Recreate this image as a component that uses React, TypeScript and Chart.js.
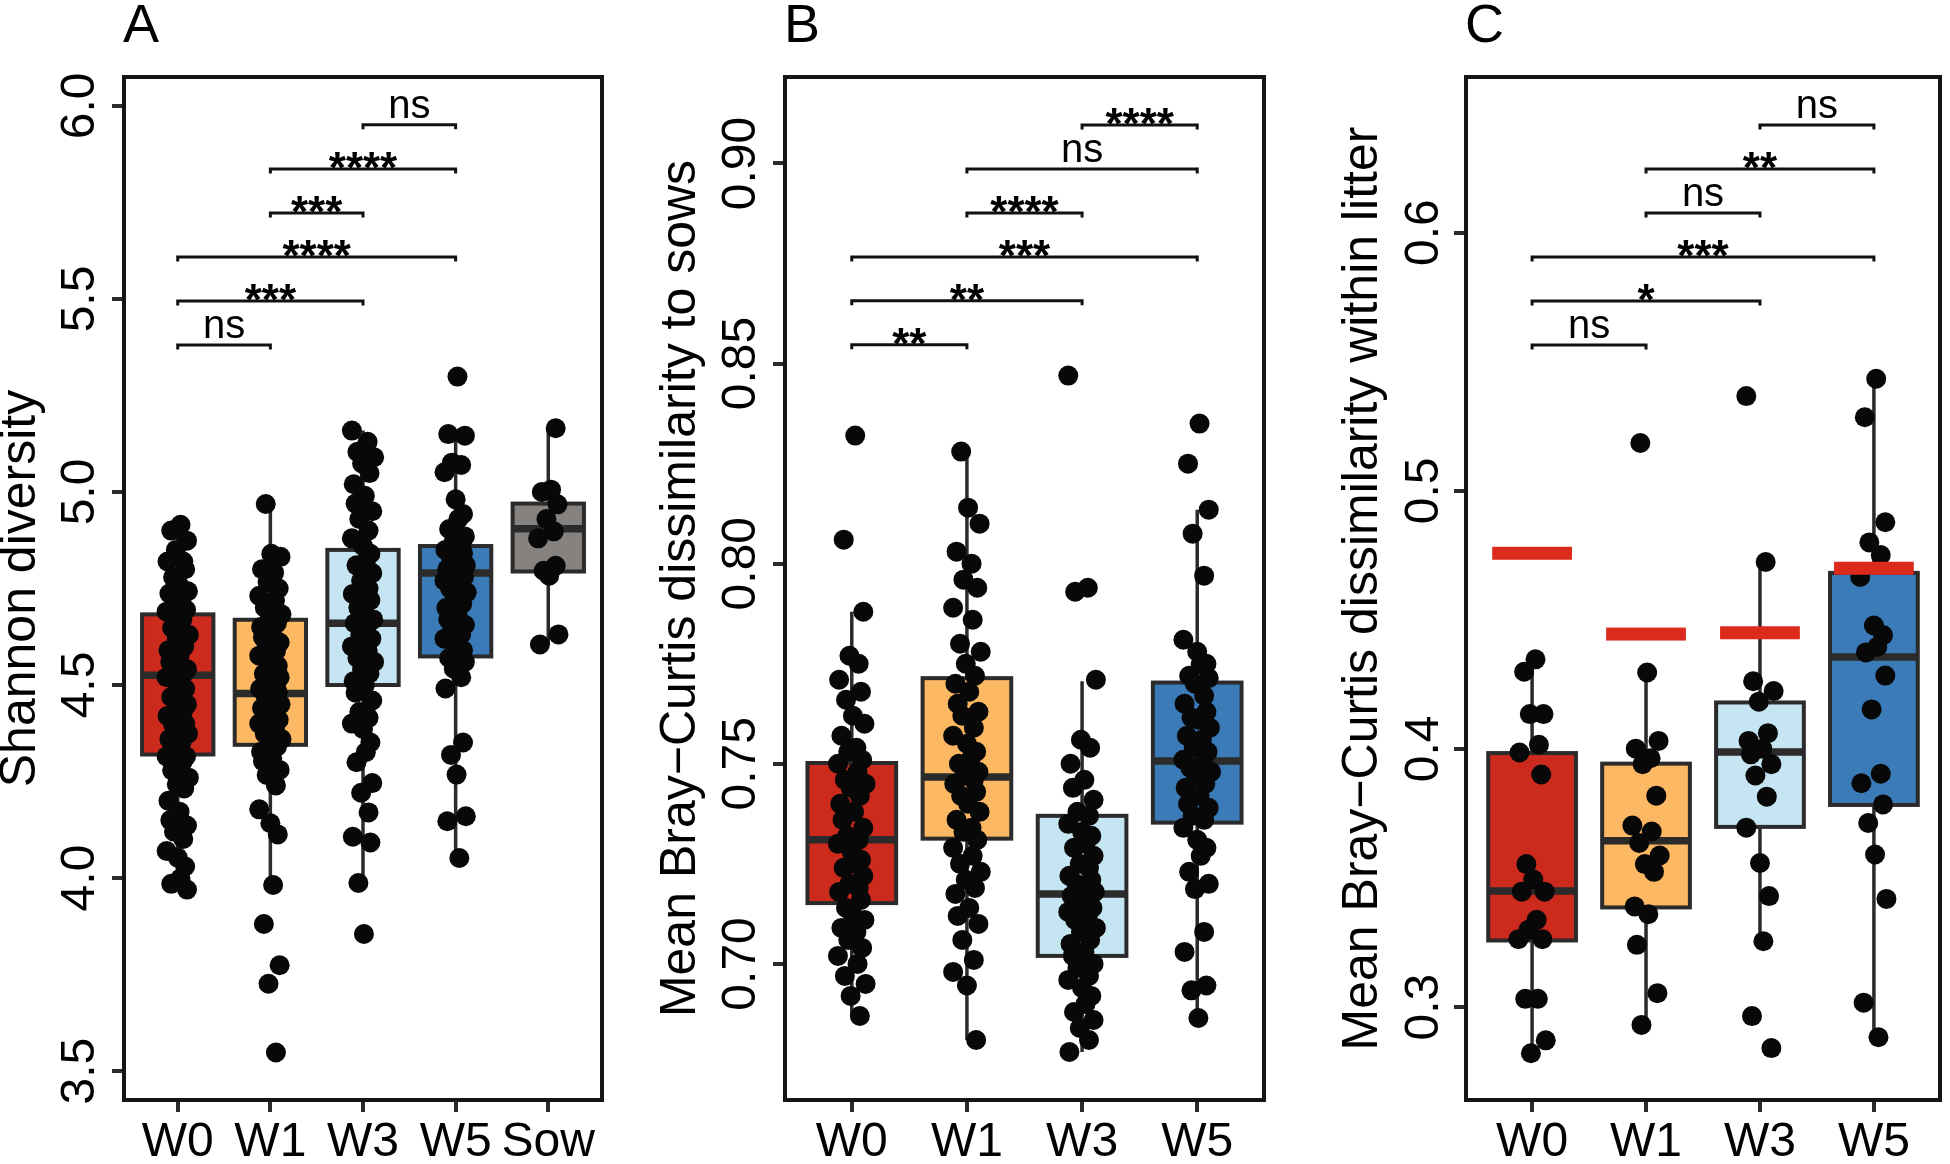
import React, { useEffect, useRef } from "react";
import { Chart, registerables } from "chart.js";

Chart.register(...registerables);

const FONT = "'Liberation Sans', Arial, Helvetica, sans-serif";

// ---------- categories ----------
const A_CATS = ["W0", "W1", "W3", "W5", "Sow"];
const B_CATS = ["W0", "W1", "W3", "W5"];
const C_CATS = ["W0", "W1", "W3", "W5"];

// ---------- axis ticks ----------
const A_TICKS = [3.5, 4.0, 4.5, 5.0, 5.5, 6.0];
const B_TICKS = [0.7, 0.75, 0.8, 0.85, 0.9];
const C_TICKS = [0.3, 0.4, 0.5, 0.6];

// ---------- box statistics: [lower whisker, Q1, median, Q3, upper whisker] ----------
const A_BOX = [
  [3.97, 4.32, 4.525, 4.683, 4.915],
  [3.982, 4.345, 4.478, 4.669, 4.969],
  [3.99, 4.5, 4.66, 4.85, 5.159],
  [4.052, 4.574, 4.79, 4.86, 5.146],
  [4.605, 4.794, 4.905, 4.97, 5.165],
];
const B_BOX = [
  [0.687, 0.7152, 0.731, 0.7502, 0.788],
  [0.681, 0.7313, 0.7467, 0.7714, 0.8276],
  [0.678, 0.702, 0.7175, 0.737, 0.7706],
  [0.6865, 0.7353, 0.7507, 0.7703, 0.8135],
];
const C_BOX = [
  [0.2822, 0.3258, 0.345, 0.3984, 0.4344],
  [0.2929, 0.3386, 0.3644, 0.3943, 0.4294],
  [0.3258, 0.3698, 0.3988, 0.418, 0.473],
  [0.2884, 0.3783, 0.4356, 0.4682, 0.5434],
];

// ---------- observations (panel A: Shannon diversity) ----------
const A_W0 = [4.915, 4.9, 4.874, 4.85, 4.82, 4.82, 4.8, 4.779, 4.76, 4.743, 4.737, 4.72, 4.7, 4.695, 4.69, 4.67, 4.648, 4.63, 4.62, 4.6, 4.59, 4.576, 4.56, 4.541, 4.53, 4.529, 4.52, 4.5, 4.49, 4.481, 4.469, 4.45, 4.44, 4.434, 4.42, 4.4, 4.398, 4.38, 4.374, 4.36, 4.351, 4.33, 4.315, 4.315, 4.3, 4.279, 4.26, 4.243, 4.232, 4.2, 4.172, 4.15, 4.136, 4.12, 4.101, 4.07, 4.053, 4.03, 3.999, 3.985, 3.97];
const A_W1 = [4.969, 4.84, 4.832, 4.8, 4.791, 4.767, 4.75, 4.731, 4.719, 4.7, 4.683, 4.67, 4.66, 4.65, 4.64, 4.624, 4.61, 4.6, 4.588, 4.576, 4.56, 4.55, 4.54, 4.529, 4.52, 4.505, 4.5, 4.49, 4.481, 4.47, 4.458, 4.45, 4.44, 4.434, 4.42, 4.41, 4.4, 4.39, 4.374, 4.36, 4.351, 4.34, 4.327, 4.31, 4.303, 4.28, 4.267, 4.24, 4.178, 4.142, 4.113, 3.982, 3.881, 3.774, 3.726, 3.548];
const A_W3 = [5.159, 5.13, 5.104, 5.09, 5.074, 5.049, 5.02, 4.99, 4.97, 4.95, 4.93, 4.9, 4.88, 4.86, 4.84, 4.82, 4.81, 4.79, 4.77, 4.75, 4.736, 4.72, 4.7, 4.69, 4.67, 4.66, 4.65, 4.63, 4.62, 4.6, 4.59, 4.57, 4.56, 4.54, 4.53, 4.51, 4.5, 4.48, 4.46, 4.43, 4.415, 4.4, 4.386, 4.351, 4.326, 4.3, 4.246, 4.221, 4.17, 4.107, 4.092, 3.987, 3.855];
const A_W5 = [5.299, 5.15, 5.146, 5.076, 5.07, 5.051, 4.981, 4.943, 4.93, 4.904, 4.885, 4.873, 4.86, 4.85, 4.841, 4.83, 4.822, 4.81, 4.8, 4.796, 4.79, 4.78, 4.77, 4.758, 4.75, 4.74, 4.726, 4.71, 4.7, 4.682, 4.67, 4.656, 4.64, 4.631, 4.62, 4.605, 4.59, 4.58, 4.57, 4.56, 4.542, 4.52, 4.491, 4.351, 4.319, 4.268, 4.16, 4.147, 4.052];
const A_SOW = [5.165, 5.006, 5.0, 4.968, 4.93, 4.898, 4.88, 4.809, 4.796, 4.783, 4.631, 4.605];

// ---------- observations (panel B: dissimilarity to sows) ----------
const B_W0 = [0.832, 0.806, 0.788, 0.777, 0.775, 0.771, 0.768, 0.766, 0.762, 0.76, 0.757, 0.754, 0.753, 0.751, 0.75, 0.748, 0.746, 0.745, 0.744, 0.742, 0.74, 0.738, 0.736, 0.734, 0.732, 0.731, 0.73, 0.728, 0.726, 0.725, 0.724, 0.722, 0.72, 0.719, 0.718, 0.716, 0.714, 0.712, 0.711, 0.709, 0.708, 0.706, 0.704, 0.702, 0.7, 0.697, 0.695, 0.692, 0.687];
const B_W1 = [0.828, 0.814, 0.81, 0.803, 0.8, 0.796, 0.794, 0.789, 0.786, 0.78, 0.778, 0.775, 0.772, 0.77, 0.768, 0.765, 0.763, 0.762, 0.759, 0.757, 0.755, 0.753, 0.751, 0.75, 0.748, 0.747, 0.746, 0.745, 0.743, 0.742, 0.74, 0.738, 0.736, 0.734, 0.733, 0.731, 0.729, 0.727, 0.725, 0.723, 0.721, 0.719, 0.7175, 0.714, 0.712, 0.71, 0.706, 0.701, 0.698, 0.6946, 0.681];
const B_W3 = [0.847, 0.794, 0.793, 0.771, 0.756, 0.754, 0.75, 0.746, 0.744, 0.741, 0.738, 0.737, 0.735, 0.733, 0.732, 0.73, 0.729, 0.727, 0.725, 0.724, 0.722, 0.721, 0.72, 0.719, 0.718, 0.717, 0.716, 0.715, 0.714, 0.713, 0.712, 0.711, 0.709, 0.708, 0.706, 0.705, 0.703, 0.702, 0.7, 0.699, 0.697, 0.696, 0.694, 0.692, 0.69, 0.688, 0.686, 0.684, 0.681, 0.678];
const B_W5 = [0.835, 0.825, 0.8135, 0.8075, 0.797, 0.781, 0.778, 0.775, 0.7748, 0.772, 0.7714, 0.77, 0.767, 0.765, 0.763, 0.7616, 0.761, 0.759, 0.757, 0.756, 0.754, 0.753, 0.751, 0.75, 0.749, 0.748, 0.747, 0.745, 0.744, 0.742, 0.74, 0.739, 0.737, 0.736, 0.734, 0.731, 0.729, 0.727, 0.723, 0.72, 0.7187, 0.708, 0.703, 0.6946, 0.6934, 0.6865];

// ---------- observations (panel C: dissimilarity within litter) ----------
const C_W0 = [0.4347, 0.4299, 0.4135, 0.4135, 0.4016, 0.3986, 0.3901, 0.3554, 0.3494, 0.3447, 0.3447, 0.3338, 0.33, 0.3263, 0.3263, 0.3032, 0.3032, 0.2871, 0.2821];
const C_W1 = [0.5185, 0.4296, 0.4031, 0.4001, 0.3964, 0.3941, 0.3819, 0.3703, 0.368, 0.3636, 0.3587, 0.3554, 0.3524, 0.339, 0.336, 0.3241, 0.3054, 0.2931];
const C_W3 = [0.5367, 0.4724, 0.4262, 0.4224, 0.4183, 0.4061, 0.4031, 0.4001, 0.3979, 0.3941, 0.3897, 0.3815, 0.3695, 0.3558, 0.343, 0.3255, 0.2965, 0.2841];
const C_W5 = [0.5434, 0.5285, 0.4878, 0.48, 0.4751, 0.4666, 0.4478, 0.4441, 0.4396, 0.4374, 0.4284, 0.4153, 0.3904, 0.3867, 0.3785, 0.3713, 0.3591, 0.3419, 0.3017, 0.2883];
// red reference level per group in panel C
const C_REF = [0.4758, 0.4445, 0.445, 0.47];

// ---------- pairwise comparisons: [group a, group b, label, bracket height] ----------
const A_SIG: [string, string, string, number][] = [
  ["W3", "W5", "ns", 5.951],
  ["W1", "W5", "****", 5.837],
  ["W1", "W3", "***", 5.723],
  ["W0", "W5", "****", 5.609],
  ["W0", "W3", "***", 5.495],
  ["W0", "W1", "ns", 5.381],
];
const B_SIG: [string, string, string, number][] = [
  ["W3", "W5", "****", 0.9096],
  ["W1", "W5", "ns", 0.8986],
  ["W1", "W3", "****", 0.8876],
  ["W0", "W5", "***", 0.8766],
  ["W0", "W3", "**", 0.8657],
  ["W0", "W1", "**", 0.8547],
];
const C_SIG: [string, string, string, number][] = [
  ["W3", "W5", "ns", 0.6417],
  ["W1", "W5", "**", 0.6247],
  ["W1", "W3", "ns", 0.6076],
  ["W0", "W5", "***", 0.5906],
  ["W0", "W3", "*", 0.5735],
  ["W0", "W1", "ns", 0.5565],
];

// ---------- presentation ----------
const COLORS: Record<string, string> = {
  W0: "#CD2A1E",
  W1: "#FDB863",
  W3: "#C6E5F2",
  W5: "#3A7BB8",
  Sow: "#86827F",
};
// horizontal jitter pattern (category units), cycled through the points
const JITTER = [0.03, -0.07, 0.1, -0.02, 0.06, -0.11, 0.08, -0.05, 0.01, 0.11, -0.09, 0.04, -0.03, 0.09, -0.12, 0.05, -0.06, 0.12, -0.01, 0.07, -0.1, 0.02, -0.08, 0.1, -0.04, 0.06, -0.12, 0.0, 0.08];

type PanelCfg = {
  letter: string;
  cats: string[];
  groups: number[][];
  box: number[][];
  ticks: number[];
  decimals: number;
  yMin: number;
  yMax: number;
  yTitle: string;
  sig: [string, string, string, number][];
  ref?: number[];
  left: number;
  width: number;
  axisWidth: number;
  padRight: number;
  titlePad: number;
  tickPad: number;
};

const PANELS: PanelCfg[] = [
  {
    letter: "A", cats: A_CATS, groups: [A_W0, A_W1, A_W3, A_W5, A_SOW], box: A_BOX, ticks: A_TICKS, decimals: 1,
    yMin: 3.425, yMax: 6.075, yTitle: "Shannon diversity", sig: A_SIG,
    left: 0, width: 620, axisWidth: 124, padRight: 18, titlePad: -3.5, tickPad: -2.4,
  },
  {
    letter: "B", cats: B_CATS, groups: [B_W0, B_W1, B_W3, B_W5], box: B_BOX, ticks: B_TICKS, decimals: 2,
    yMin: 0.666, yMax: 0.9216, yTitle: "Mean Bray\u2212Curtis dissimilarity to sows", sig: B_SIG,
    left: 620, width: 670, axisWidth: 165, padRight: 26, titlePad: 36, tickPad: -15.7,
  },
  {
    letter: "C", cats: C_CATS, groups: [C_W0, C_W1, C_W3, C_W5], box: C_BOX, ticks: C_TICKS, decimals: 1,
    yMin: 0.264, yMax: 0.6603, yTitle: "Mean Bray\u2212Curtis dissimilarity within litter", sig: C_SIG, ref: C_REF,
    left: 1290, width: 660, axisWidth: 176, padRight: 5, titlePad: 48, tickPad: -3.9,
  },
];

const X_MARGIN = 0.58;
const BOX_HALF = 0.385;
const REF_HALF = 0.35;
const INK = "#2B2B2B";

function makePlugin(cfg: PanelCfg) {
  return {
    id: "panel" + cfg.letter,
    beforeDatasetsDraw(chart: any) {
      const { ctx, scales } = chart;
      const x = scales.x;
      const y = scales.y;
      ctx.save();
      cfg.box.forEach((b, i) => {
        const [lo, q1, med, q3, hi] = b;
        const xc = x.getPixelForValue(i);
        const half = x.getPixelForValue(i + BOX_HALF) - xc;
        ctx.strokeStyle = INK;
        ctx.lineWidth = 3.5;
        ctx.beginPath();
        ctx.moveTo(xc, y.getPixelForValue(hi));
        ctx.lineTo(xc, y.getPixelForValue(q3));
        ctx.moveTo(xc, y.getPixelForValue(q1));
        ctx.lineTo(xc, y.getPixelForValue(lo));
        ctx.stroke();
        const top = y.getPixelForValue(q3);
        const bot = y.getPixelForValue(q1);
        ctx.fillStyle = COLORS[cfg.cats[i]];
        ctx.fillRect(xc - half, top, 2 * half, bot - top);
        ctx.lineWidth = 4;
        ctx.strokeRect(xc - half, top, 2 * half, bot - top);
        ctx.lineWidth = 7.5;
        ctx.beginPath();
        const ym = y.getPixelForValue(med);
        ctx.moveTo(xc - half, ym);
        ctx.lineTo(xc + half, ym);
        ctx.stroke();
      });
      ctx.restore();
    },
    afterDatasetsDraw(chart: any) {
      const { ctx, scales } = chart;
      const x = scales.x;
      const y = scales.y;
      ctx.save();
      if (cfg.ref) {
        ctx.fillStyle = "#DC2A1C";
        cfg.ref.forEach((v, i) => {
          const xc = x.getPixelForValue(i);
          const half = x.getPixelForValue(i + REF_HALF) - xc;
          const py = y.getPixelForValue(v);
          ctx.fillRect(xc - half, py - 6.5, 2 * half, 13);
        });
      }
      // significance brackets
      cfg.sig.forEach(([a, b, label, v]) => {
        const x1 = x.getPixelForValue(cfg.cats.indexOf(a));
        const x2 = x.getPixelForValue(cfg.cats.indexOf(b));
        const py = y.getPixelForValue(v);
        ctx.strokeStyle = "#111";
        ctx.lineWidth = 3;
        ctx.beginPath();
        ctx.moveTo(x1, py + 4.5);
        ctx.lineTo(x1, py);
        ctx.lineTo(x2, py);
        ctx.lineTo(x2, py + 4.5);
        ctx.stroke();
        ctx.fillStyle = "#000";
        ctx.textAlign = "center";
        ctx.textBaseline = "alphabetic";
        if (label === "ns") {
          ctx.font = `40px ${FONT}`;
          ctx.fillText(label, (x1 + x2) / 2, py - 7);
        } else {
          ctx.font = `bold 44px ${FONT}`;
          ctx.fillText(label, (x1 + x2) / 2, py + 14);
        }
      });
      ctx.restore();
    },
    afterDraw(chart: any) {
      const { ctx, chartArea } = chart;
      ctx.save();
      ctx.strokeStyle = "#151515";
      ctx.lineWidth = 4;
      ctx.strokeRect(chartArea.left, chartArea.top, chartArea.right - chartArea.left, chartArea.bottom - chartArea.top);
      ctx.fillStyle = "#000";
      ctx.font = `54px ${FONT}`;
      ctx.textAlign = "left";
      ctx.textBaseline = "alphabetic";
      ctx.fillText(cfg.letter, chartArea.left - 1, 42);
      ctx.restore();
    },
  };
}

function buildConfig(cfg: PanelCfg): any {
  const n = cfg.cats.length;
  const points: { x: number; y: number }[] = [];
  cfg.groups.forEach((g, i) => {
    g.forEach((v, k) => {
      points.push({ x: i + JITTER[(k + i * 7) % JITTER.length], y: v });
    });
  });
  const grid = {
    display: true,
    drawOnChartArea: false,
    drawTicks: true,
    tickLength: 12,
    tickWidth: 4,
    tickColor: INK,
    color: INK,
    lineWidth: 4,
  };
  return {
    type: "scatter",
    data: {
      datasets: [
        {
          data: points,
          pointRadius: 10,
          pointHoverRadius: 10,
          pointBackgroundColor: "#080808",
          pointBorderWidth: 0,
          pointBorderColor: "#080808",
        },
      ],
    },
    options: {
      animation: false,
      responsive: false,
      events: [],
      layout: { padding: { left: 0, right: cfg.padRight, top: 77, bottom: 0 } },
      plugins: { legend: { display: false }, tooltip: { enabled: false }, title: { display: false } },
      scales: {
        x: {
          type: "linear",
          min: -X_MARGIN,
          max: n - 1 + X_MARGIN,
          afterBuildTicks: (s: any) => {
            s.ticks = cfg.cats.map((_, i) => ({ value: i }));
          },
          afterFit: (s: any) => {
            s.height = 64;
          },
          ticks: {
            autoSkip: false,
            maxRotation: 0,
            minRotation: 0,
            padding: 2,
            color: "#000",
            font: { family: FONT, size: 48, lineHeight: 1.2 },
            callback: (v: any) => cfg.cats[Math.round(v)],
          },
          grid,
          border: { display: false },
        },
        y: {
          type: "linear",
          min: cfg.yMin,
          max: cfg.yMax,
          afterBuildTicks: (s: any) => {
            s.ticks = cfg.ticks.map((v) => ({ value: v }));
          },
          afterFit: (s: any) => {
            s.width = cfg.axisWidth;
          },
          ticks: {
            autoSkip: false,
            minRotation: 90,
            maxRotation: 90,
            crossAlign: "center",
            padding: cfg.tickPad,
            color: "#000",
            font: { family: FONT, size: 48, lineHeight: 1.2 },
            callback: (v: any) => Number(v).toFixed(cfg.decimals),
          },
          grid,
          border: { display: false },
          title: {
            display: true,
            text: cfg.yTitle,
            color: "#000",
            font: { family: FONT, size: 50, lineHeight: 1 },
            padding: { top: cfg.titlePad, bottom: 0 },
          },
        },
      },
    },
    plugins: [makePlugin(cfg)],
  };
}

function Panel({ cfg }: { cfg: PanelCfg }) {
  const ref = useRef<HTMLCanvasElement>(null);
  useEffect(() => {
    if (!ref.current) return;
    const chart = new Chart(ref.current, buildConfig(cfg));
    return () => chart.destroy();
  }, [cfg]);
  return (
    <canvas
      ref={ref}
      width={cfg.width}
      height={1164}
      style={{ position: "absolute", left: cfg.left, top: 0, width: cfg.width, height: 1164 }}
    />
  );
}

export default function App() {
  return (
    <div style={{ position: "absolute", left: 0, top: 0, width: 1950, height: 1164, background: "#fff", overflow: "hidden" }}>
      {PANELS.map((p) => (
        <Panel key={p.letter} cfg={p} />
      ))}
    </div>
  );
}
